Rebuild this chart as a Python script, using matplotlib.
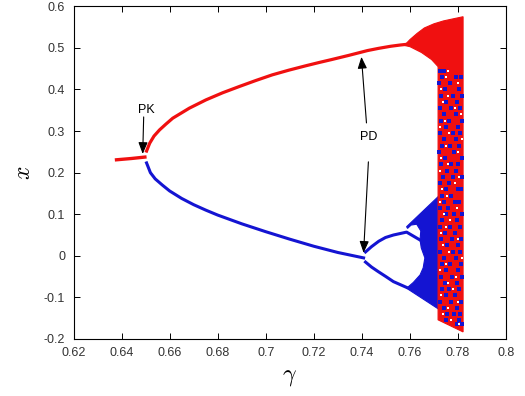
import matplotlib.pyplot as plt
from matplotlib.patches import Polygon

plt.rcParams['font.family'] = ['Liberation Sans', 'DejaVu Sans']
plt.rcParams['mathtext.fontset'] = 'cm'

RED = '#f01010'
BLUE = '#1414d2'

# stable fixed point before the pitchfork
pre_g = [0.6372, 0.6440, 0.6504]
pre_x = [0.2306, 0.2340, 0.2379]

# upper (red) branch after PK
up_g = [0.6504, 0.6517, 0.6535, 0.6558, 0.6585, 0.6613, 0.6682, 0.6751,
        0.6820, 0.6889, 0.6958, 0.7027, 0.7096, 0.7165, 0.7221, 0.7274,
        0.7345, 0.7423, 0.7470, 0.7520, 0.7560, 0.7593]
up_x = [0.2520, 0.2708, 0.2880, 0.3028, 0.3170, 0.3310, 0.3551, 0.3750,
        0.3920, 0.4070, 0.4215, 0.4352, 0.4465, 0.4568, 0.4648, 0.4720,
        0.4820, 0.4936, 0.4990, 0.5040, 0.5070, 0.5090]

# lower (blue) branch after PK
lo_g = [0.6504, 0.6520, 0.6540, 0.6570, 0.6600, 0.6650, 0.6700, 0.6750,
        0.6800, 0.6900, 0.7000, 0.7100, 0.7200, 0.7300, 0.7407]
lo_x = [0.2234, 0.2000, 0.1850, 0.1700, 0.1560, 0.1380, 0.1230, 0.1100,
        0.0980, 0.0770, 0.0580, 0.0400, 0.0230, 0.0080, -0.0050]

# period-doubled blue branches
pd1_g = [0.7415, 0.7440, 0.7470, 0.7498, 0.7531, 0.7586, 0.7642]
pd1_x = [0.0093, 0.0220, 0.0350, 0.0440, 0.0500, 0.0570, 0.0380]
pd2_g = [0.7415, 0.7440, 0.7468, 0.7500, 0.7531, 0.7586]
pd2_x = [-0.0150, -0.0270, -0.0380, -0.0500, -0.0620, -0.0760]

# blue chaotic band outline
bch_g = [0.7586, 0.7724, 0.7724, 0.7586, 0.7614, 0.7642, 0.7655, 0.7662,
         0.7647, 0.7642, 0.7645, 0.7628, 0.7605, 0.7590]
bch_x = [0.070, 0.146, -0.130, -0.078, -0.064, -0.046, -0.029, -0.005,
         0.019, 0.038, 0.060, 0.076, 0.074, 0.066]

# red chaotic band outline
rch_g = [0.7577, 0.7600, 0.7630, 0.7660, 0.7700, 0.7740, 0.7821, 0.7821,
         0.7717, 0.7717, 0.7690, 0.7648, 0.7600]
rch_x = [0.506, 0.520, 0.535, 0.548, 0.558, 0.565, 0.575, -0.183,
         -0.154, 0.455, 0.472, 0.489, 0.503]

# blue / white speckles inside the red band, row by row
spk_rows = [0.445, 0.430, 0.415, 0.400, 0.385, 0.370, 0.355, 0.340, 0.325,
            0.310, 0.295, 0.280, 0.265, 0.250, 0.235, 0.220, 0.205, 0.190,
            0.175, 0.160, 0.145, 0.130, 0.115, 0.100, 0.085, 0.070, 0.055,
            0.040, 0.025, 0.010, -0.005, -0.020, -0.035, -0.050, -0.065,
            -0.080, -0.095, -0.110, -0.125, -0.140, -0.155, -0.165]
spk_blue = [[0.7724, 0.7741], [0.7733, 0.7790, 0.7812], [0.7722, 0.7768],
            [0.7745, 0.7804], [0.7729, 0.7781, 0.7815], [0.7752, 0.7796],
            [0.7724, 0.7770, 0.7808], [0.7740, 0.7790], [0.7730, 0.7761, 0.7818],
            [0.7749, 0.7800], [0.7726, 0.7778, 0.7810], [0.7741, 0.7793],
            [0.7733, 0.7766, 0.7806], [0.7722, 0.7784], [0.7746, 0.7815],
            [0.7729, 0.7772, 0.7801], [0.7755, 0.7792], [0.7737, 0.7779, 0.7816],
            [0.7725, 0.7763], [0.7748, 0.7798, 0.7812], [0.7732, 0.7770],
            [0.7743, 0.7789, 0.7806], [0.7727, 0.7760], [0.7751, 0.7783, 0.7817],
            [0.7735, 0.7795], [0.7724, 0.7766, 0.7809], [0.7746, 0.7786],
            [0.7731, 0.7773, 0.7814], [0.7756, 0.7799], [0.7726, 0.7780, 0.7808],
            [0.7742, 0.7791], [0.7733, 0.7768, 0.7811], [0.7751, 0.7801],
            [0.7728, 0.7776, 0.7815], [0.7745, 0.7794], [0.7734, 0.7762, 0.7806],
            [0.7752, 0.7788], [0.7727, 0.7771, 0.7813], [0.7741, 0.7797],
            [0.7756, 0.7785, 0.7810], [0.7748, 0.7802], [0.7794, 0.7815]]
spk_white = [0.7760, 0.7752, 0.7801, 0.7728, 0.7757, 0.7738, 0.7787, 0.7812,
             0.7745, 0.7727, 0.7762, 0.7817, 0.7750, 0.7799, 0.7730, 0.7758,
             0.7724, 0.7805, 0.7787, 0.7735, 0.7754, 0.7725, 0.7796, 0.7740,
             0.7768, 0.7750, 0.7731, 0.7800, 0.7738, 0.7764, 0.7816, 0.7750,
             0.7726, 0.7790, 0.7760, 0.7781, 0.7730, 0.7800, 0.7758, 0.7738,
             0.7770, 0.7805]

fig = plt.figure(figsize=(5.25, 3.96), dpi=100)
ax = fig.add_axes([0.140, 0.144, 0.824, 0.840])

ax.add_patch(Polygon(list(zip(bch_g, bch_x)), closed=True, facecolor=BLUE,
                     edgecolor=BLUE, lw=0.8))
ax.add_patch(Polygon(list(zip(rch_g, rch_x)), closed=True, facecolor=RED,
                     edgecolor=RED, lw=0.8))

ax.plot(pre_g, pre_x, color=RED, lw=2.4, solid_capstyle='butt')
ax.plot(up_g, up_x, color=RED, lw=2.3)
ax.plot(lo_g, lo_x, color=BLUE, lw=2.2)
ax.plot(pd1_g, pd1_x, color=BLUE, lw=2.2)
ax.plot(pd2_g, pd2_x, color=BLUE, lw=2.2)

for xr, gb in zip(spk_rows, spk_blue):
    ax.plot(gb, [xr] * len(gb), 's', color=BLUE, ms=2.2, mew=0)
ax.plot(spk_white, spk_rows, 's', color='white', ms=1.7, mew=0)

arrow = dict(arrowstyle='-|>,head_length=0.7,head_width=0.28', color='black',
             lw=0.8, shrinkA=0, shrinkB=0)
ax.text(0.6505, 0.351, 'PK', ha='center', va='center', fontsize=9)
ax.annotate('', xy=(0.6488, 0.245), xytext=(0.6492, 0.334), arrowprops=arrow)
ax.text(0.7429, 0.286, 'PD', ha='center', va='center', fontsize=9)
ax.annotate('', xy=(0.7398, 0.4785), xytext=(0.7419, 0.3196), arrowprops=arrow)
ax.annotate('', xy=(0.7407, 0.0072), xytext=(0.7427, 0.226), arrowprops=arrow)

ax.set_xlim(0.62, 0.8)
ax.set_ylim(-0.2, 0.6)
ax.set_xticks([0.62, 0.64, 0.66, 0.68, 0.7, 0.72, 0.74, 0.76, 0.78, 0.8])
ax.set_xticklabels(['0.62', '0.64', '0.66', '0.68', '0.7', '0.72', '0.74',
                    '0.76', '0.78', '0.8'])
ax.set_yticks([-0.2, -0.1, 0, 0.1, 0.2, 0.3, 0.4, 0.5, 0.6])
ax.set_yticklabels(['-0.2', '-0.1', '0', '0.1', '0.2', '0.3', '0.4', '0.5', '0.6'])
ax.tick_params(direction='in', top=True, right=True, length=4, width=0.7,
               labelsize=9, labelcolor='#333333')
ax.tick_params(axis='x', pad=6)
ax.tick_params(axis='y', pad=6)
for s in ax.spines.values():
    s.set_linewidth(0.8)

ax.set_xlabel(r'$\gamma$', fontsize=17, labelpad=5)
ax.set_ylabel(r'$x$', fontsize=17, labelpad=6)

fig.savefig('out.png', dpi=100)
